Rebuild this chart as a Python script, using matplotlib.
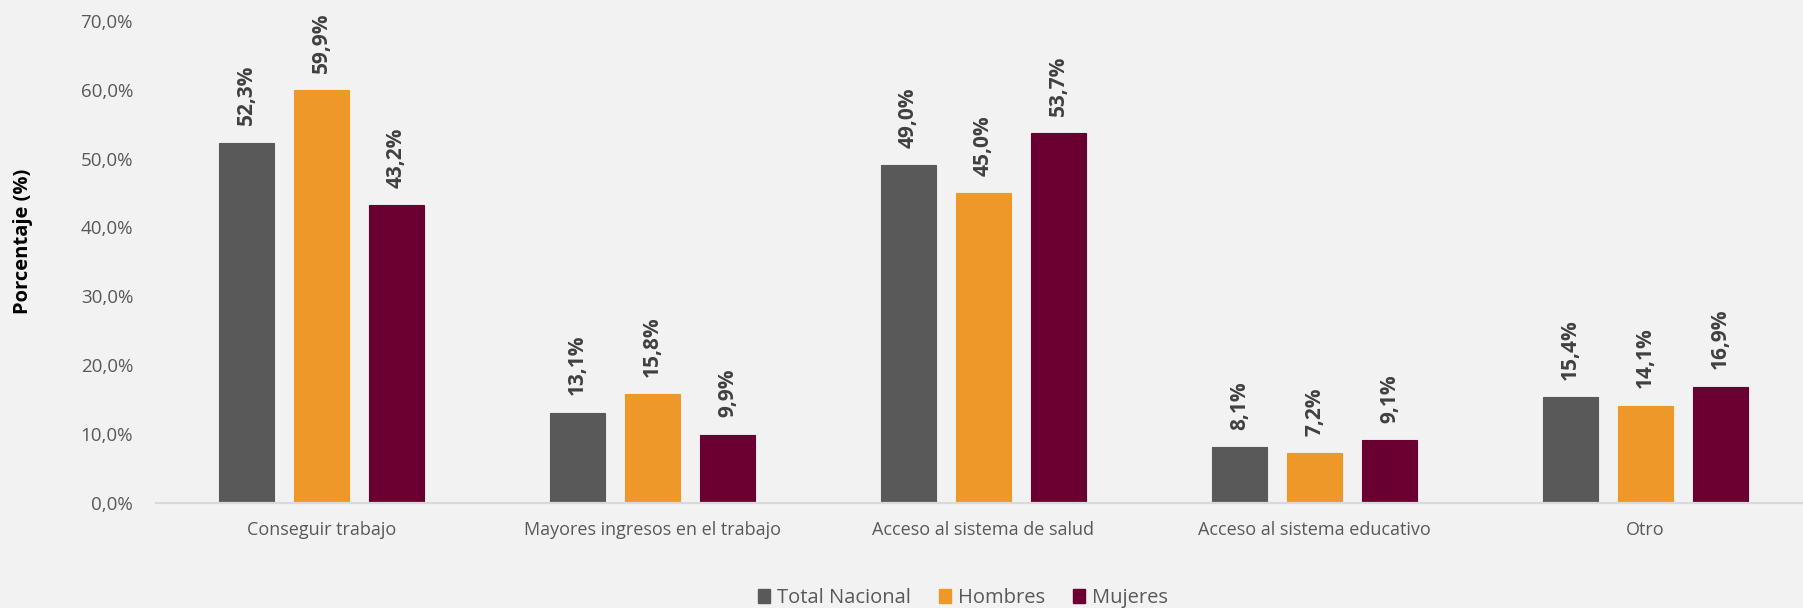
import matplotlib
matplotlib.use("Agg")
import matplotlib.pyplot as plt
from matplotlib.patches import Patch
import numpy as np

categories = ["Conseguir trabajo", "Mayores ingresos en el trabajo",
              "Acceso al sistema de salud", "Acceso al sistema educativo", "Otro"]
series_names = ["Total Nacional", "Hombres", "Mujeres"]
total_nacional = [52.3, 13.1, 49.0, 8.1, 15.4]
hombres = [59.9, 15.8, 45.0, 7.2, 14.1]
mujeres = [43.2, 9.9, 53.7, 9.1, 16.9]
yticks = [0, 10, 20, 30, 40, 50, 60, 70]
colors = ["#595959", "#EE9829", "#6A0032"]

plt.rcParams['font.family'] = ['Open Sans', 'DejaVu Sans']
BG = "#F2F2F2"

fig = plt.figure(figsize=(18.03, 6.08), dpi=100, facecolor=BG)
ax = fig.add_axes([156/1803, (608-503)/608, (1811-156)/1803, (503-20.7)/608])
ax.set_facecolor(BG)

x = np.arange(len(categories))
width = 0.169
offset = 0.2266
for i, (vals, col) in enumerate(zip([total_nacional, hombres, mujeres], colors)):
    pos = x + (i - 1) * offset
    bars = ax.bar(pos, vals, width, color=col, edgecolor=col, linewidth=0.8, zorder=2)
    for b, v in zip(bars, vals):
        ax.annotate(f"{v:.1f}%".replace(".", ","),
                    (b.get_x() + b.get_width()/2, b.get_height()),
                    xytext=(0, 12.5), textcoords="offset points",
                    rotation=90, ha="center", va="bottom",
                    fontsize=15, fontweight="bold", color="#404040")

ax.set_xlim(-0.5, len(categories) - 0.5)
ax.set_ylim(0, 70)
ax.set_yticks(yticks)
ax.set_yticklabels([f"{t:.1f}%".replace(".", ",") for t in yticks], fontsize=13.5, color="#595959")
ax.set_xticks(x)
ax.set_xticklabels(categories, fontsize=13, color="#595959")
ax.tick_params(axis="y", length=0, pad=16.5)
ax.tick_params(axis="x", length=0, pad=13)
for s in ["top", "right", "left"]:
    ax.spines[s].set_visible(False)
ax.spines["bottom"].set_color("#D9D9D9")
ax.spines["bottom"].set_linewidth(1.6)
ax.spines["bottom"].set_zorder(3)

fig.text(23/1803, 1 - 241/608, "Porcentaje (%)", rotation=90, ha="center", va="center",
         fontsize=14.5, fontweight="bold", color="black")

handles = [Patch(facecolor=c, edgecolor=c) for c in colors]
fig.legend(handles, series_names, loc="center", bbox_to_anchor=(963/1803, 10/608),
           ncol=3, frameon=False, fontsize=14.5, handlelength=0.63, handleheight=0.63,
           handletextpad=0.35, columnspacing=1.35, labelcolor="#595959", borderpad=0)

fig.savefig("out.png", dpi=100, facecolor=BG)
